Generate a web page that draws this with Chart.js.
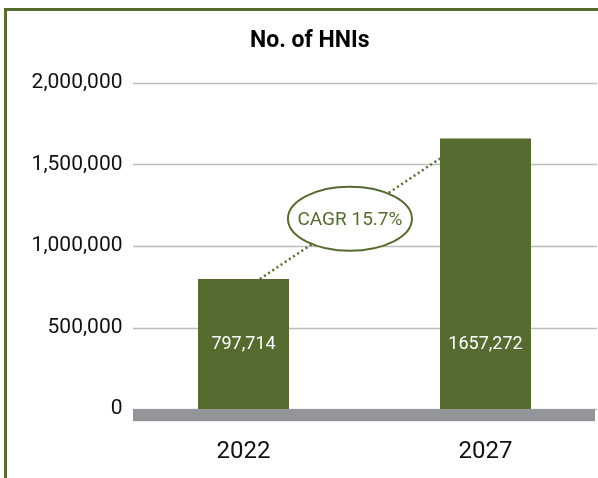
<!DOCTYPE html>
<html>
<head>
<meta charset="utf-8">
<script src="https://cdn.jsdelivr.net/npm/chart.js@4"></script>
<style>
  html, body { margin: 0; background: #fff; overflow: hidden; }
  canvas { display: block; }
</style>
</head>
<body>
<canvas id="chart1" width="607" height="494"></canvas>
<script>
const years = ['2022', '2027'];
const hniCount = [797714, 1657272];
const valueLabels = ['797,714', '1657,272'];
const yTicks = [0, 500000, 1000000, 1500000, 2000000];
const cagrText = 'CAGR 15.7%';

const olive = '#556b2f';
const gridLeft = 133, gridRight = 597;
const cht1 = document.getElementById('chart1');

// border, grid lines, grey base band, cagr line + ellipse, value labels
const decor = {
  id: 'decor',
  beforeDraw(chart) {
    const ctx = chart.ctx;
    ctx.save();
    ctx.fillStyle = olive;
    ctx.fillRect(4, 8, 594, 3);
    ctx.fillRect(4, 8, 3, 470);
    ctx.restore();
  },
  beforeDatasetsDraw(chart) {
    const ctx = chart.ctx;
    const y = chart.scales.y;
    ctx.save();
    ctx.strokeStyle = '#bdbdbd';
    ctx.lineWidth = 1.5;
    yTicks.forEach(v => {
      const py = Math.round(y.getPixelForValue(v)) + 0.5;
      ctx.beginPath();
      ctx.moveTo(gridLeft, py);
      ctx.lineTo(gridRight, py);
      ctx.stroke();
    });
    ctx.restore();
  },
  afterDatasetsDraw(chart) {
    const ctx = chart.ctx;
    const y0 = chart.scales.y.getPixelForValue(0);
    const bars = chart.getDatasetMeta(0).data;
    ctx.save();
    ctx.fillStyle = '#939598';
    ctx.fillRect(gridLeft, y0, gridRight - gridLeft - 2, 12);

    // value labels inside bars
    ctx.fillStyle = '#fff';
    ctx.font = '18px Roboto';
    ctx.textAlign = 'center';
    ctx.textBaseline = 'middle';
    bars.forEach((b, i) => ctx.fillText(valueLabels[i], b.x, y0 - 65));

    // dotted growth line
    const b1 = bars[0], b2 = bars[1];
    const sx = b1.x + b1.width * 0.18, sy = b1.y;
    const ex = b2.x - b2.width / 2, ey = b2.y + 20;
    ctx.strokeStyle = olive;
    ctx.lineWidth = 2.5;
    ctx.setLineDash([2, 3]);
    ctx.beginPath();
    ctx.moveTo(sx, sy);
    ctx.lineTo(ex, ey);
    ctx.stroke();

    // ellipse with cagr
    const cx = (sx + ex) / 2, cy = (sy + ey) / 2;
    ctx.setLineDash([]);
    ctx.lineWidth = 2;
    ctx.fillStyle = '#fff';
    ctx.beginPath();
    ctx.ellipse(cx, cy, 62, 32, 0, 0, Math.PI * 2);
    ctx.fill();
    ctx.stroke();
    ctx.fillStyle = olive;
    ctx.font = '19px Roboto';
    ctx.fillText(cagrText, cx, cy + 1);
    ctx.restore();
  }
};

new Chart(cht1, {
  type: 'bar',
  data: {
    labels: years,
    datasets: [{
      data: hniCount,
      backgroundColor: olive,
      barPercentage: 0.376,
      categoryPercentage: 1
    }]
  },
  options: {
    responsive: false,
    animation: false,
    layout: { padding: { left: 13, right: 0.5, top: 0, bottom: 0 } },
    plugins: {
      legend: { display: false },
      tooltip: { enabled: false },
      title: {
        display: true,
        text: 'No. of HNIs',
        color: '#000',
        font: { family: 'Roboto', size: 23, weight: 'bold', lineHeight: 1.2 },
        padding: { top: 27, bottom: 28 }
      }
    },
    scales: {
      x: {
        grid: { display: false, drawTicks: false },
        border: { display: false },
        ticks: {
          padding: 28,
          maxRotation: 0,
          color: '#111',
          font: { family: 'Roboto', size: 24 }
        }
      },
      y: {
        min: 0,
        max: 2000000,
        afterFit: s => { s.width = 109.5; },
        afterBuildTicks: s => { s.ticks = yTicks.map(v => ({ value: v })); },
        grid: { display: false, drawTicks: false },
        border: { display: false },
        ticks: {
          padding: 0,
          color: '#111',
          font: { family: 'Roboto', size: 21 },
          callback: v => v.toLocaleString('en-US')
        }
      }
    }
  },
  plugins: [decor]
});
</script>
</body>
</html>
